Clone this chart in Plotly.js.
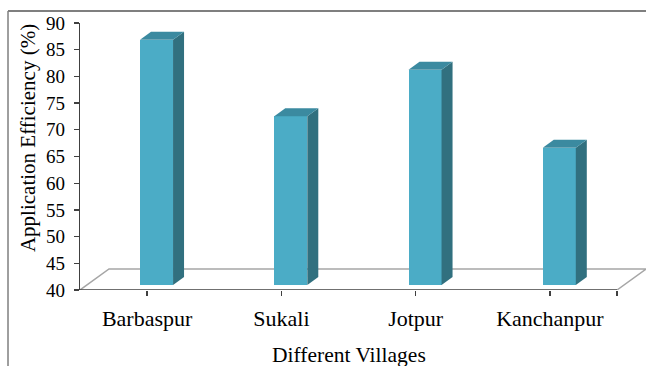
<!DOCTYPE html>
<html>
<head>
<meta charset="utf-8">
<script src="https://cdn.plot.ly/plotly-3.0.1.min.js"></script>
<style>html,body{margin:0;padding:0;background:#fff;}#chart{width:646px;height:366px;}</style>
</head>
<body>
<div id="chart"></div>
<script>
// ---- data ----
const villages = ["Barbaspur", "Sukali", "Jotpur", "Kanchanpur"];
const efficiency = [85.9, 71.6, 80.3, 65.7];
const yTicks = [40, 45, 50, 55, 60, 65, 70, 75, 80, 85, 90];

// ---- 3D look parameters (data units) ----
const axisMin = 40;
const barWidth = 0.246;
const barShift = 0.07;          // front face centre offset from category
const barLift = 0.94;           // bar bottom above front floor edge
const sideDx = 0.082, sideDy = 1.5;
const floorDx = 0.216, floorDy = 3.93;

const cFront = "#4BACC6", cSide = "#31707F", cTop = "#3B8AA0";
const idx = villages.map((_, i) => i);

const bar = {
  type: "bar",
  x: idx,
  y: efficiency.map(v => v - axisMin),
  base: efficiency.map(() => axisMin + barLift),
  width: barWidth,
  offset: barShift - barWidth / 2,
  marker: {color: cFront, line: {width: 0}},
  hoverinfo: "skip",
  showlegend: false
};

const shapes = [];
// floor (parallelogram)
const fl = -0.5, fr = 3.5;
shapes.push({type: "path", xref: "x", yref: "y", layer: "below",
  path: `M${fl},${axisMin} L${fl + floorDx},${axisMin + floorDy} L${fr + floorDx},${axisMin + floorDy} L${fr},${axisMin}`,
  line: {color: "#A6A6A6", width: 1.5}, fillcolor: "rgba(0,0,0,0)"});
// front axis edge
shapes.push({type: "line", xref: "x", yref: "y", layer: "above",
  x0: fl, x1: fr, y0: axisMin, y1: axisMin, line: {color: "#404040", width: 1.3}});

efficiency.forEach((v, i) => {
  const L = i + barShift - barWidth / 2, R = i + barShift + barWidth / 2;
  const b = axisMin + barLift, t = v + barLift;
  shapes.push({type: "path", xref: "x", yref: "y", layer: "above",
    path: `M${R},${b} L${R},${t} L${R + sideDx},${t + sideDy} L${R + sideDx},${b + sideDy} Z`,
    fillcolor: cSide, line: {width: 0}});
  shapes.push({type: "path", xref: "x", yref: "y", layer: "above",
    path: `M${L},${t} L${R},${t} L${R + sideDx},${t + sideDy} L${L + sideDx},${t + sideDy} Z`,
    fillcolor: cTop, line: {width: 0}});
});

// outer frame (left and top)
shapes.push({type: "line", xref: "paper", yref: "paper", x0: -0.1272, x1: -0.1272, y0: 1.0449, y1: -0.30,
  line: {color: "#7F7F7F", width: 1.5}});
shapes.push({type: "line", xref: "paper", yref: "paper", x0: -0.1272, x1: 1.01, y0: 1.0449, y1: 1.0449,
  line: {color: "#7F7F7F", width: 2}});

const font = "Liberation Serif, Times New Roman, serif";

const layout = {
  width: 646, height: 366,
  margin: {l: 80, r: 0, t: 23, b: 76, pad: 0},
  paper_bgcolor: "#fff", plot_bgcolor: "rgba(0,0,0,0)",
  font: {family: font, color: "#000"},
  xaxis: {
    range: [-0.5, 3.716], showgrid: false, zeroline: false, showline: false,
    tickvals: idx.concat([3.5]), ticktext: villages.concat([""]),
    ticks: "outside", ticklen: 5, tickwidth: 1.3, tickcolor: "#404040",
    tickfont: {family: font, size: 22, color: "#000"}, ticklabelstandoff: 4
  },
  yaxis: {
    range: [40, 90], tickvals: yTicks, ticktext: yTicks.map(String),
    showgrid: false, zeroline: false, showline: true, linecolor: "#404040", linewidth: 1.3,
    ticks: "outside", ticklen: 5, tickwidth: 1.3, tickcolor: "#404040",
    tickfont: {family: font, size: 19, color: "#000"}, ticklabelstandoff: 5
  },
  shapes: shapes,
  annotations: [
    {text: "Application Efficiency (%)", xref: "paper", yref: "paper", x: -0.0919, y: 0.569,
     xanchor: "center", yanchor: "middle", textangle: -90, showarrow: false,
     font: {family: font, size: 21, color: "#000"}},
    {text: "Different Villages", xref: "paper", yref: "paper", x: 0.476, y: -0.243,
     xanchor: "center", yanchor: "middle", showarrow: false,
     font: {family: font, size: 21.5, color: "#000"}}
  ],
  bargap: 0
};

Plotly.newPlot("chart", [bar], layout, {staticPlot: true, displayModeBar: false});
</script>
</body>
</html>
